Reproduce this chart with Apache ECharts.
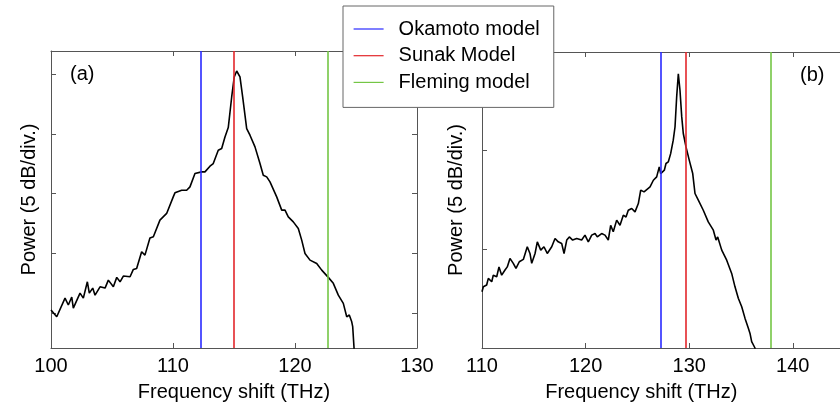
<!DOCTYPE html>
<html>
<head>
<meta charset="utf-8">
<script src="https://cdn.jsdelivr.net/npm/echarts@6/dist/echarts.min.js"></script>
<style>html,body{margin:0;padding:0;background:#fff}#c{width:840px;height:408px}</style>
</head>
<body>
<div id="c"></div>
<script>
// Panel (a): frequency shift (THz) and relative power (dB)
var freqA = [100.0,100.47,101.15,101.42,101.70,101.83,102.38,102.65,102.98,103.14,103.42,103.61,104.02,104.43,104.70,105.11,105.39,105.66,105.93,106.48,106.75,107.02,107.43,107.70,108.11,108.39,108.93,109.48,110.02,110.16,110.71,111.12,111.39,111.80,112.35,112.62,113.03,113.30,113.44,113.71,113.99,114.26,114.53,114.81,115.02,115.22,115.35,115.49,115.71,116.04,116.31,116.72,117.13,117.40,117.68,117.95,118.50,118.91,119.18,119.45,119.86,120.27,120.55,120.82,121.23,121.78,122.19,122.73,123.14,123.55,123.96,124.24,124.45,124.65,124.73,124.84,124.90];
var powerA = [0.23,-0.34,1.23,0.65,1.32,0.39,1.65,1.23,2.60,1.65,2.07,1.48,2.18,2.07,2.74,2.18,2.97,2.60,3.08,3.02,3.64,3.72,5.12,4.84,6.27,6.38,7.78,8.34,9.73,10.07,10.29,10.29,10.57,11.69,11.83,11.83,12.31,12.53,12.67,13.65,13.79,14.76,15.55,18.12,19.80,20.30,20.22,19.80,18.12,15.47,14.91,13.93,12.53,11.55,11.41,10.99,9.73,8.62,8.62,8.05,7.63,7.08,6.10,4.98,4.42,4.14,3.58,2.97,2.47,1.48,0.79,-0.34,-0.19,-0.76,-1.17,-2.96,-4.5];

// Panel (b)
var freqB = [110.0,110.13,110.45,110.61,110.94,111.09,111.42,111.64,111.90,112.22,112.44,112.70,113.02,113.28,113.60,113.99,114.37,114.63,114.80,115.12,115.34,115.67,115.98,116.30,116.73,117.05,117.36,117.69,117.92,118.18,118.43,118.75,119.14,119.62,119.94,120.26,120.59,120.91,121.13,121.55,121.87,122.19,122.42,122.67,123.00,123.32,123.64,123.90,124.12,124.45,124.77,125.09,125.32,125.64,126.22,126.54,126.86,127.11,127.25,127.40,127.60,127.76,127.98,128.21,128.46,128.63,128.79,128.95,129.11,129.28,129.43,129.69,130.01,130.34,130.56,130.88,131.36,131.84,132.33,132.59,132.75,133.14,133.62,134.10,134.42,134.74,135.07,135.39,135.71,135.87,136.03,136.19,136.35,136.50];
var powerB = [2.85,3.10,3.19,3.53,3.36,3.69,3.61,4.11,3.69,3.95,4.11,4.54,4.29,4.03,4.37,4.49,5.13,4.79,4.29,4.79,5.38,4.96,5.13,4.79,5.13,5.55,5.38,5.30,4.79,5.47,5.63,5.47,5.55,5.47,5.72,5.38,5.72,5.80,5.63,5.80,5.72,5.47,6.22,5.89,6.48,6.22,6.73,6.64,6.98,7.07,6.90,7.32,8.00,7.91,8.16,8.50,8.67,9.18,8.84,8.79,9.01,9.35,9.43,9.85,10.53,11.20,12.72,13.90,13.06,11.71,10.87,10.19,9.51,8.84,7.83,7.49,6.98,6.39,5.97,5.47,5.63,4.96,4.45,3.78,3.10,2.52,2.09,1.50,1.00,0.74,0.32,0.40,0.0,-0.8];

// Model predictions (THz) for panels (a) and (b)
var modelNames = ['Okamoto model', 'Sunak Model', 'Fleming model'];
var modelShiftA = [112.3, 115.0, 122.65];
var modelShiftB = [127.3, 129.7, 137.85];

// Axis tick values
var xTicksA = [100, 110, 120, 130];
var xTicksB = [110, 120, 130, 140];
var yTicksA = [0, 5, 10, 15, 20];
var yTicksB = [0, 5, 10, 15];

var modelColors = ['#2a2aff', '#e3262b', '#74c645'];
var FONT = 'Liberation Sans, Arial, sans-serif';
var AX = '#555555';

function zip(a, b) { return a.map(function (v, i) { return [v, b[i]]; }); }

function xAxisPair(gi, ticks, max, namePad) {
  var common = {
    type: 'value', gridIndex: gi, min: ticks[0], max: max, interval: 10,
    splitLine: { show: false },
    axisLine: { show: true, onZero: false, lineStyle: { color: AX, width: 1 } },
    axisTick: { show: true, inside: true, length: 5, lineStyle: { color: AX } }
  };
  var bottom = Object.assign({}, common, {
    position: 'bottom',
    axisLabel: { show: true, color: '#000', fontSize: 20, fontFamily: FONT, margin: 8, customValues: ticks },
    name: 'Frequency shift (THz)', nameLocation: 'middle', nameGap: 34,
    nameTextStyle: { color: '#000', fontSize: 20, fontFamily: FONT, padding: namePad }
  });
  var top = Object.assign({}, common, { position: 'top', axisLabel: { show: false } });
  return [bottom, top];
}

function yAxisPair(gi, min, max, ticks, nameGap, showRight) {
  var common = {
    type: 'value', gridIndex: gi, min: min, max: max,
    splitLine: { show: false },
    axisLine: { show: true, onZero: false, lineStyle: { color: AX, width: 1 } },
    axisTick: { show: true, inside: true, length: 5, lineStyle: { color: AX }, customValues: ticks },
    axisLabel: { show: false, customValues: ticks }
  };
  var left = Object.assign({}, common, {
    position: 'left',
    name: 'Power (5 dB/div.)', nameLocation: 'middle', nameGap: nameGap,
    nameTextStyle: { color: '#000', fontSize: 20, fontFamily: FONT }
  });
  var right = Object.assign({}, common, { position: 'right', show: showRight });
  return [left, right];
}

var xA = xAxisPair(0, xTicksA, 130, [0, 0, 0, 0]);
var xB = xAxisPair(1, xTicksB, 145, [0, 44, 0, 0]);
var yA = yAxisPair(0, -2.96, 21.98, yTicksA, 12, true);
var yB = yAxisPair(1, 0, 15, yTicksB, 16, false);

var series = [
  { type: 'line', name: 'spectrum a', xAxisIndex: 0, yAxisIndex: 0, data: zip(freqA, powerA),
    showSymbol: false, symbol: 'none', lineStyle: { color: '#000', width: 1.6 }, z: 3 },
  { type: 'line', name: 'spectrum b', xAxisIndex: 2, yAxisIndex: 2, data: zip(freqB, powerB),
    showSymbol: false, symbol: 'none', lineStyle: { color: '#000', width: 1.6 }, z: 3 }
];
modelNames.forEach(function (nm, i) {
  [[0, 0, modelShiftA[i]], [2, 2, modelShiftB[i]]].forEach(function (cfg) {
    series.push({
      type: 'line', name: nm, xAxisIndex: cfg[0], yAxisIndex: cfg[1], data: [],
      symbol: 'none', color: modelColors[i], lineStyle: { color: modelColors[i], width: 1.5 },
      markLine: {
        silent: true, symbol: ['none', 'none'], label: { show: false },
        lineStyle: { color: modelColors[i], width: 1.6, type: 'solid' },
        emphasis: { disabled: true },
        data: [{ xAxis: cfg[2] }]
      },
      z: 2
    });
  });
});

var chart = echarts.init(document.getElementById('c'), null, { renderer: 'canvas' });
chart.setOption({
  animation: false,
  backgroundColor: '#fff',
  textStyle: { fontFamily: FONT },
  grid: [
    { left: 51, top: 51, width: 366, height: 297, outerBoundsMode: 'none', containLabel: false },
    { left: 482, top: 52, width: 362.6, height: 296, outerBoundsMode: 'none', containLabel: false }
  ],
  xAxis: [xA[0], xA[1], xB[0], xB[1]],
  yAxis: [yA[0], yA[1], yB[0], yB[1]],
  legend: {
    data: modelNames, orient: 'vertical', left: 343, top: 6,
    backgroundColor: '#fff', borderColor: '#666', borderWidth: 1, borderRadius: 0,
    padding: [13, 14, 15, 10], itemWidth: 30, itemHeight: 20, itemGap: 6.7,
    itemStyle: { opacity: 0, color: 'rgba(0,0,0,0)', borderWidth: 0 },
    lineStyle: { width: 1.2 },
    textStyle: { color: '#000', fontSize: 20, fontFamily: FONT, lineHeight: 20, padding: [0, 0, 0, 10] },
    selectedMode: false, z: 10
  },
  graphic: [
    { type: 'text', left: 70, top: 64, style: { text: '(a)', font: '20px ' + FONT, fill: '#000' } },
    { type: 'text', left: 800, top: 65, style: { text: '(b)', font: '20px ' + FONT, fill: '#000' } }
  ],
  series: series
});
</script>
</body>
</html>
